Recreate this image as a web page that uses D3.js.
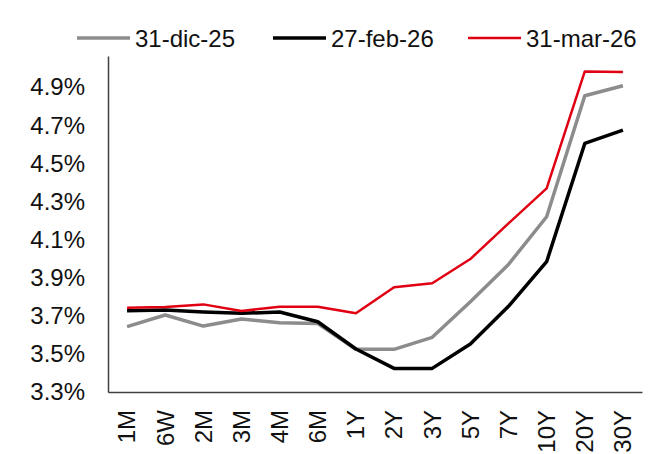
<!DOCTYPE html>
<html>
<head>
<meta charset="utf-8">
<script src="https://cdn.jsdelivr.net/npm/d3@7"></script>
<style>
  html, body { margin: 0; padding: 0; background: #fff; }
  svg { display: block; font-family: "Liberation Sans", Arial, sans-serif; }
</style>
</head>
<body>
<svg id="chart" width="663" height="454"></svg>
<script>
const categories = ["1M","6W","2M","3M","4M","6M","1Y","2Y","3Y","5Y","7Y","10Y","20Y","30Y"];
const seriesNames = ["31-dic-25", "27-feb-26", "31-mar-26"];
const seriesColors = ["#8c8c8c", "#000000", "#e00012"];
const dic25 = [3.643, 3.704, 3.646, 3.683, 3.664, 3.660, 3.524, 3.524, 3.587, 3.774, 3.970, 4.220, 4.855, 4.908];
const feb26 = [3.727, 3.730, 3.720, 3.713, 3.720, 3.669, 3.526, 3.424, 3.424, 3.552, 3.750, 3.984, 4.605, 4.675];
const mar26 = [3.742, 3.746, 3.760, 3.725, 3.748, 3.748, 3.713, 3.850, 3.871, 3.998, 4.185, 4.369, 4.983, 4.980];
const yTicks = [3.3, 3.5, 3.7, 3.9, 4.1, 4.3, 4.5, 4.7, 4.9];
const yDomain = [3.3, 5.064];

(function () {
const series = [dic25, feb26, mar26];
const svg = d3.select("#chart");
const mLeft = 108, mRight = 642, mTop = 56, mBottom = 392;
const fs = 24;

const x = d3.scaleBand().domain(categories).range([mLeft, mRight]).padding(0);
const y = d3.scaleLinear().domain(yDomain).range([mBottom, mTop]);

// axes
const yAxis = svg.append("g").attr("transform", `translate(${mLeft},0)`)
  .call(d3.axisLeft(y).tickValues(yTicks).tickSize(0).tickPadding(23).tickFormat(d => d3.format(".1f")(d) + "%"));
yAxis.select(".domain").attr("stroke", "#404040").attr("stroke-width", 1.5);
yAxis.selectAll("text").attr("font-size", fs).attr("fill", "#111").attr("font-family", "Liberation Sans, Arial, sans-serif");

const xAxis = svg.append("g").attr("transform", `translate(0,${mBottom})`)
  .call(d3.axisBottom(x).tickSize(0).tickPadding(0));
xAxis.select(".domain").attr("stroke", "#404040").attr("stroke-width", 1.5);
xAxis.selectAll("text")
  .attr("font-size", fs).attr("fill", "#111").attr("font-family", "Liberation Sans, Arial, sans-serif")
  .attr("text-anchor", "end")
  .attr("transform", "rotate(-90)")
  .attr("x", -18).attr("y", 0).attr("dy", "0.35em");

// lines
const line = d3.line().x((d, i) => x(categories[i]) + x.bandwidth() / 2).y(d => y(d));
const widths = [3.5, 3.5, 2.5];
series.forEach((s, k) => {
  svg.append("path").datum(s)
    .attr("fill", "none").attr("stroke", seriesColors[k]).attr("stroke-width", widths[k])
    .attr("stroke-linejoin", "round").attr("d", line);
});

// legend
const legendX = [77, 273, 468];
seriesNames.forEach((n, k) => {
  const g = svg.append("g").attr("transform", `translate(${legendX[k]},38)`);
  g.append("line").attr("x1", 0).attr("x2", 53).attr("y1", 0).attr("y2", 0)
    .attr("stroke", seriesColors[k]).attr("stroke-width", widths[k]);
  g.append("text").attr("x", 58).attr("y", 0).attr("dy", "0.36em")
    .attr("font-size", fs).attr("fill", "#111").text(n);
});
})();
</script>
</body>
</html>
